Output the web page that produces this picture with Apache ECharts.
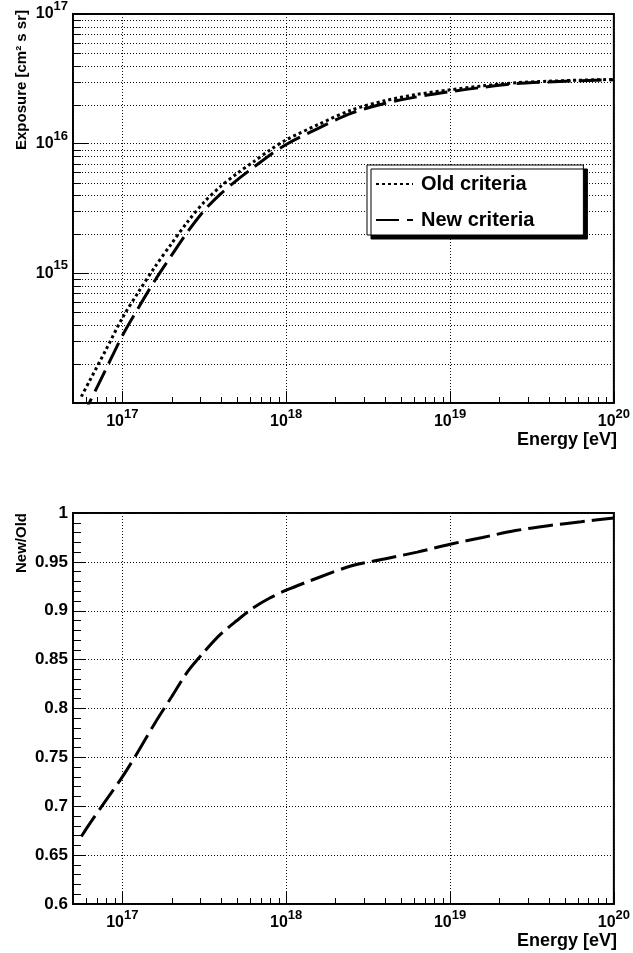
<!DOCTYPE html>
<html><head><meta charset="utf-8">
<script src="https://cdn.jsdelivr.net/npm/echarts@6/dist/echarts.min.js"></script>
<style>html,body{margin:0;padding:0;background:#fff}#c{width:633px;height:953px}</style>
</head><body><div id="c"></div><script>
// ---- data ----
const energy = [5.62e16, 6.31e16, 7.94e16, 1e17, 1.26e17, 1.58e17, 2.00e17, 2.51e17, 3.16e17, 3.98e17, 5.01e17, 6.31e17, 7.94e17, 1e18, 1.58e18, 2.51e18, 3.98e18, 6.31e18, 1e19, 1.58e19, 2.51e19, 3.98e19, 6.31e19, 1e20];
const exposureOld = [1.12e14, 1.48e14, 2.57e14, 4.52e14, 7.24e14, 1.12e15, 1.70e15, 2.51e15, 3.55e15, 4.68e15, 5.89e15, 7.24e15, 8.91e15, 1.07e16, 1.41e16, 1.82e16, 2.14e16, 2.40e16, 2.60e16, 2.79e16, 2.95e16, 3.03e16, 3.09e16, 3.13e16];
const exposureNew = [7.50e13, 1.01e14, 1.82e14, 3.30e14, 5.48e14, 8.81e14, 1.38e15, 2.10e15, 3.05e15, 4.10e15, 5.24e15, 6.55e15, 8.15e15, 9.86e15, 1.32e16, 1.72e16, 2.04e16, 2.30e16, 2.52e16, 2.72e16, 2.90e16, 2.99e16, 3.06e16, 3.11e16];
const ratioNewOld = [0.669, 0.682, 0.706, 0.730, 0.757, 0.785, 0.812, 0.838, 0.858, 0.876, 0.890, 0.903, 0.913, 0.921, 0.934, 0.946, 0.953, 0.960, 0.968, 0.975, 0.982, 0.987, 0.991, 0.995];
const seriesNames = ['Old criteria', 'New criteria'];
const xLabelExps = [17, 18, 19, 20];
const yLabelExpsTop = [15, 16, 17];
const xMinorTicks = [6e16, 7e16, 8e16, 9e16, 2e17, 3e17, 4e17, 5e17, 6e17, 7e17, 8e17, 9e17, 2e18, 3e18, 4e18, 5e18, 6e18, 7e18, 8e18, 9e18, 2e19, 3e19, 4e19, 5e19, 6e19, 7e19, 8e19, 9e19];
const yMinorTop = [2e14, 3e14, 4e14, 5e14, 6e14, 7e14, 8e14, 9e14, 2e15, 3e15, 4e15, 5e15, 6e15, 7e15, 8e15, 9e15, 2e16, 3e16, 4e16, 5e16, 6e16, 7e16, 8e16, 9e16];
const xMin = 5e16, xMax = 1e20, yTopMin = 1e14, yTopMax = 1e17, yBotMin = 0.6, yBotMax = 1.0;

const F = '"Liberation Sans", Arial, Helvetica, sans-serif';
const chart = echarts.init(document.getElementById('c'), null, {renderer: 'canvas'});

function expOf(v) { return Math.round(Math.log10(v)); }
function isPow(v) { return Math.abs(Math.log10(v) - expOf(v)) < 1e-6; }
const richPow = {
  b: {fontSize: 16, fontWeight: 'bold', fontFamily: F, color: '#000', lineHeight: 22, verticalAlign: 'bottom'},
  s: {fontSize: 13, fontWeight: 'bold', fontFamily: F, color: '#000', lineHeight: 13, verticalAlign: 'top'}
};
function xLab(v) { return (isPow(v) && xLabelExps.includes(expOf(v))) ? '{b|10}{s|' + expOf(v) + '}' : ''; }
function yLabTop(v) { return (isPow(v) && yLabelExpsTop.includes(expOf(v))) ? '{b|10}{s|' + expOf(v) + '}' : ''; }

const dotted = {color: '#111', width: 1, type: [1, 2]};

function xAxisLog(gi) {
  return {
    type: 'log', logBase: 10, gridIndex: gi, min: xMin, max: xMax,
    axisLine: {show: false},
    axisTick: {show: true, inside: true, length: 12, lineStyle: {color: '#000', width: 1}},
    axisLabel: {formatter: xLab, rich: richPow, margin: 5, hideOverlap: false, showMinLabel: true, showMaxLabel: true},
    splitLine: {show: true, lineStyle: dotted}
  };
}

function xMinorSeries(gi, yv) {
  return {
    type: 'custom', xAxisIndex: gi, yAxisIndex: gi, silent: true, z: 3, clip: false,
    data: xMinorTicks.map(v => [v, yv]),
    renderItem: function (params, api) {
      const cs = params.coordSys;
      const x = Math.round(api.coord([api.value(0), api.value(1)])[0]) + 0.5;
      const yb = cs.y + cs.height;
      return {type: 'line', shape: {x1: x, y1: yb, x2: x, y2: yb - 6}, style: {stroke: '#000', lineWidth: 1}};
    }
  };
}

const option = {
  backgroundColor: '#fff',
  animation: false,
  grid: [
    {left: 73, right: 16, top: 13, height: 390, show: true, borderColor: '#000', borderWidth: 2, backgroundColor: '#fff'},
    {left: 73, right: 16, top: 513, height: 391, show: true, borderColor: '#000', borderWidth: 2, backgroundColor: '#fff'}
  ],
  xAxis: [xAxisLog(0), xAxisLog(1)],
  yAxis: [
    {
      type: 'log', logBase: 10, gridIndex: 0, min: yTopMin, max: yTopMax,
      axisLine: {show: false},
      axisTick: {show: true, inside: true, length: 15, lineStyle: {color: '#000', width: 1}},
      axisLabel: {formatter: yLabTop, rich: richPow, margin: 5, padding: [0, 0, 6, 0]},
      splitLine: {show: true, lineStyle: dotted}
    },
    {
      type: 'value', gridIndex: 1, min: yBotMin, max: yBotMax, interval: 0.05,
      axisLine: {show: false},
      axisTick: {show: true, inside: true, length: 13, lineStyle: {color: '#000', width: 1}},
      minorTick: {show: true, splitNumber: 5, length: 8, lineStyle: {color: '#000', width: 1}},
      axisLabel: {fontSize: 17, fontWeight: 'bold', fontFamily: F, color: '#000', margin: 5},
      splitLine: {show: true, lineStyle: dotted}
    }
  ],
  legend: {
    data: seriesNames,
    orient: 'vertical', left: 367, top: 165,
    padding: [8, 49, 4, 8], itemGap: 14, itemWidth: 37, itemHeight: 14,
    backgroundColor: '#fff', borderColor: '#000', borderWidth: 1, borderRadius: 0,
    shadowColor: '#000', shadowBlur: 0, shadowOffsetX: 4, shadowOffsetY: 4,
    itemStyle: {opacity: 0},
    textStyle: {fontSize: 20, fontWeight: 'bold', fontFamily: F, color: '#000', lineHeight: 22, padding: [0, 0, 0, 3]},
    selectedMode: false
  },
  graphic: [
    {type: 'text', x: 22, y: 10, rotation: Math.PI / 2, style: {text: 'Exposure [cm² s sr]', font: 'bold 15px ' + F, fill: '#000', align: 'right', verticalAlign: 'middle'}},
    {type: 'text', x: 22, y: 513, rotation: Math.PI / 2, style: {text: 'New/Old', font: 'bold 15px ' + F, fill: '#000', align: 'right', verticalAlign: 'middle'}},
    {type: 'text', x: 617, y: 431, style: {text: 'Energy [eV]', font: 'bold 18px ' + F, fill: '#000', align: 'right', verticalAlign: 'top'}},
    {type: 'text', x: 617, y: 932, style: {text: 'Energy [eV]', font: 'bold 18px ' + F, fill: '#000', align: 'right', verticalAlign: 'top'}}
  ],
  series: [
    {
      name: seriesNames[0], type: 'line', xAxisIndex: 0, yAxisIndex: 0, z: 5,
      data: energy.map((e, i) => [e, exposureOld[i]]),
      symbol: 'none', smooth: 0.3, itemStyle: {color: '#000'},
      lineStyle: {color: '#000', width: 3, type: [3, 3], cap: 'butt'}
    },
    {
      name: seriesNames[1], type: 'line', xAxisIndex: 0, yAxisIndex: 0, z: 5,
      data: energy.map((e, i) => [e, exposureNew[i]]),
      symbol: 'none', smooth: 0.3, itemStyle: {color: '#000'},
      lineStyle: {color: '#000', width: 3, type: [23, 8], cap: 'butt'}
    },
    {
      name: 'New/Old', type: 'line', xAxisIndex: 1, yAxisIndex: 1, z: 5,
      data: energy.map((e, i) => [e, ratioNewOld[i]]),
      symbol: 'none', smooth: 0.3, itemStyle: {color: '#000'},
      lineStyle: {color: '#000', width: 3, type: [25, 7], cap: 'butt'}
    },
    xMinorSeries(0, yTopMin),
    xMinorSeries(1, yBotMin),
    {
      type: 'custom', xAxisIndex: 0, yAxisIndex: 0, silent: true, z: 1, clip: false,
      data: yMinorTop.map(v => [xMin, v]),
      renderItem: function (params, api) {
        const cs = params.coordSys;
        const y = Math.round(api.coord([api.value(0), api.value(1)])[1]) + 0.5;
        return {type: 'group', children: [
          {type: 'line', shape: {x1: cs.x, y1: y, x2: cs.x + cs.width, y2: y}, style: {stroke: '#111', lineWidth: 1, lineDash: [1, 2]}},
          {type: 'line', shape: {x1: cs.x, y1: y, x2: cs.x + 8, y2: y}, style: {stroke: '#000', lineWidth: 1}}
        ]};
      }
    }
  ]
};
chart.setOption(option);
</script></body></html>
